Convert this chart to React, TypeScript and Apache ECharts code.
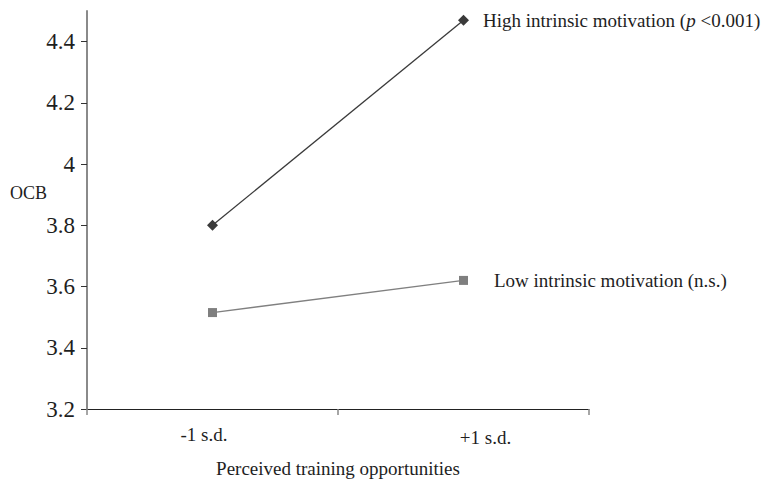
import React, { useEffect, useRef } from "react";
import * as echarts from "echarts";

const categories = ["-1 s.d.", "+1 s.d."];
const highValues = [3.8, 4.47];
const lowValues = [3.515, 3.62];
const yTicks = [3.2, 3.4, 3.6, 3.8, 4, 4.2, 4.4];
const yMin = 3.2;
const yMax = 4.5;
const yStep = 0.2;
const yName = "OCB";
const xName = "Perceived training opportunities";
const highName = "High intrinsic motivation";
const lowName = "Low intrinsic motivation";
const highNote = "{i|p} <0.001";
const lowNote = "n.s.";

const FONT = "Liberation Serif";
const TEXT = "#1e1e1e";

export default function App() {
  const ref = useRef<HTMLDivElement>(null);
  useEffect(() => {
    if (!ref.current) return;
    const chart = echarts.init(ref.current, null, { renderer: "svg" });
    const lastLabel = (text: string, distance: number) => ({
      show: true,
      position: "right",
      distance,
      formatter: text,
      color: TEXT,
      fontFamily: FONT,
      fontSize: 19,
      rich: {
        i: { fontStyle: "italic", fontFamily: FONT, fontSize: 19, color: TEXT },
      },
    });
    const build = (vals: number[], label: any) =>
      vals.map((v, i) => (i === vals.length - 1 ? { value: v, label } : v));
    const matchTick = (v: number) => yTicks.find((t) => Math.abs(t - v) < 1e-6);
    chart.setOption({
      animation: false,
      backgroundColor: "#ffffff",
      textStyle: { fontFamily: FONT, color: TEXT },
      grid: { left: 87, right: 177, top: 11, bottom: 67, containLabel: false },
      graphic: [
        {
          type: "text",
          left: 10,
          top: 184,
          style: { text: yName, fontFamily: FONT, fontSize: 18, fill: TEXT },
        },
      ],
      xAxis: {
        type: "category",
        data: categories,
        boundaryGap: true,
        name: xName,
        nameLocation: "middle",
        nameGap: 50,
        nameTextStyle: { fontFamily: FONT, fontSize: 19, color: TEXT },
        axisLine: { show: true, lineStyle: { color: "#222222", width: 1 } },
        axisTick: { show: true, length: 6, lineStyle: { color: "#888888", width: 1.5 } },
        axisLabel: {
          margin: 15,
          fontFamily: FONT,
          fontSize: 19,
          color: TEXT,
          formatter: (v: string, i: number) => (i === 0 ? `{a|${v}}` : `{b|${v}}`),
          rich: {
            a: { fontFamily: FONT, fontSize: 19, color: TEXT, lineHeight: 20, padding: [0, 17, 0, 0] },
            b: { fontFamily: FONT, fontSize: 19, color: TEXT, lineHeight: 20, padding: [7, 0, 0, 44] },
          },
        },
        splitLine: { show: false },
      },
      yAxis: {
        type: "value",
        min: yMin,
        max: yMax,
        interval: yStep,
        axisLine: { show: true, lineStyle: { color: "#8a8a8a", width: 2 } },
        axisTick: {
          show: true,
          length: 6,
          customValues: yTicks,
          lineStyle: { color: "#333333", width: 1 },
        },
        axisLabel: {
          margin: 12,
          color: TEXT,
          fontFamily: FONT,
          fontSize: 23,
          showMaxLabel: false,
          formatter: (v: number) => {
            const t = matchTick(v);
            return t === undefined ? "" : String(t);
          },
        },
        splitLine: { show: false },
      },
      series: [
        {
          type: "line",
          name: highName,
          data: build(highValues, lastLabel(`${highName} (${highNote})`, 14)),
          symbol: "diamond",
          symbolSize: 11,
          itemStyle: { color: "#3a3a3a" },
          lineStyle: { color: "#3a3a3a", width: 1.3 },
          z: 3,
        },
        {
          type: "line",
          name: lowName,
          data: build(lowValues, lastLabel(`${lowName} (${lowNote})`, 26)),
          symbol: "rect",
          symbolSize: 9,
          itemStyle: { color: "#7f7f7f" },
          lineStyle: { color: "#808080", width: 1.3 },
          z: 3,
        },
      ],
    });
    return () => chart.dispose();
  }, []);
  return (
    <div
      ref={ref}
      style={{ position: "fixed", left: 0, top: 0, width: 766, height: 483 }}
    />
  );
}
